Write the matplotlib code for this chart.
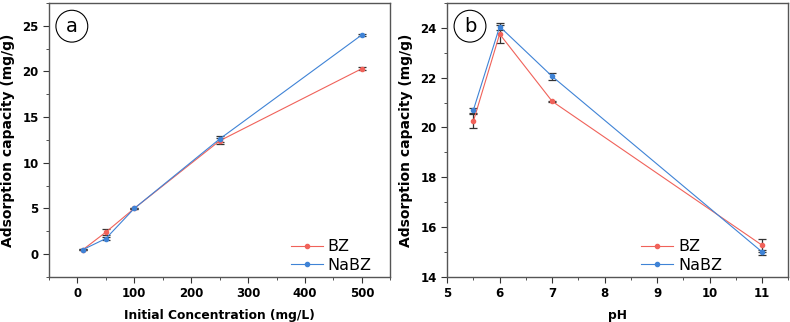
import numpy as np
import matplotlib.pyplot as plt
from matplotlib.lines import Line2D

# panel a: effect of initial concentration
conc = [10, 50, 100, 250, 500]
bz_conc = [0.5, 2.4, 5.0, 12.4, 20.3]
bz_conc_err = [0.05, 0.3, 0.08, 0.3, 0.15]
nabz_conc = [0.5, 1.7, 5.0, 12.6, 24.0]
nabz_conc_err = [0.05, 0.15, 0.08, 0.3, 0.08]

# panel b: effect of pH
ph = [5.5, 6, 7, 11]
bz_ph = [20.25, 23.75, 21.05, 15.27]
bz_ph_err = [0.27, 0.35, 0.03, 0.27]
nabz_ph = [20.7, 24.05, 22.05, 15.0]
nabz_ph_err = [0.1, 0.15, 0.15, 0.1]

red = '#f0625a'
blue = '#3f83d6'

fig = plt.figure(figsize=(7.9, 3.22), dpi=100)
ax1 = fig.add_axes([0.062, 0.140, 0.432, 0.851])
ax2 = fig.add_axes([0.566, 0.140, 0.432, 0.851])


def draw(ax, x, y1, e1, y2, e2, letter, leg_x):
    for y, e, c in [(y1, e1, red), (y2, e2, blue)]:
        ax.errorbar(x, y, yerr=e, color=c, lw=0.8, marker='o', ms=3,
                    ecolor='#333333', elinewidth=0.9, capsize=3, capthick=0.9)
    for s in ax.spines.values():
        s.set_color('#555555')
        s.set_linewidth(1.0)
    ax.tick_params(which='both', direction='out', top=False, right=False,
                   colors='#333333', labelcolor='black', labelsize=8.5)
    ax.tick_params(which='major', length=4)
    ax.tick_params(which='minor', length=2)
    handles = [Line2D([], [], color=red, lw=0.8, marker='o', ms=3),
               Line2D([], [], color=blue, lw=0.8, marker='o', ms=3)]
    ax.legend(handles, ['BZ', 'NaBZ'], loc='lower right', frameon=False, fontsize=11.5,
              handlelength=2.0, handletextpad=0.3, labelspacing=0.2,
              borderaxespad=0, borderpad=0.1, bbox_to_anchor=(leg_x, 0.01))
    ax.set_ylabel('Adsorption capacity (mg/g)', fontsize=10, fontweight='bold', labelpad=5)
    ax.text(0.067, 0.915, letter, transform=ax.transAxes, fontsize=14, ha='center', va='center',
            bbox=dict(boxstyle='circle,pad=0.33', fc='white', ec='black', lw=0.8))


draw(ax1, conc, bz_conc, bz_conc_err, nabz_conc, nabz_conc_err, 'a', 0.95)
ax1.set_xlim(-50, 550)
ax1.set_ylim(-2.5, 27.5)
ax1.set_xticks([0, 100, 200, 300, 400, 500])
ax1.set_xticks(np.arange(-50, 551, 50), minor=True)
ax1.set_yticks([0, 5, 10, 15, 20, 25])
ax1.set_yticks(np.arange(-2.5, 27.6, 2.5), minor=True)
ax1.set_xlabel('Initial Concentration (mg/L)', fontsize=8.8, fontweight='bold', labelpad=6)

draw(ax2, ph, bz_ph, bz_ph_err, nabz_ph, nabz_ph_err, 'b', 0.81)
ax2.set_xlim(5, 11.5)
ax2.set_ylim(14, 25)
ax2.set_xticks([5, 6, 7, 8, 9, 10, 11])
ax2.set_xticks(np.arange(5, 11.6, 0.5), minor=True)
ax2.set_yticks([14, 16, 18, 20, 22, 24])
ax2.set_yticks(np.arange(14, 25.1, 1), minor=True)
ax2.set_xlabel('pH', fontsize=8.8, fontweight='bold', labelpad=6)

for ax in (ax1, ax2):
    for t in ax.get_xticklabels() + ax.get_yticklabels():
        t.set_fontweight('bold')

fig.savefig('out.png', dpi=100)
